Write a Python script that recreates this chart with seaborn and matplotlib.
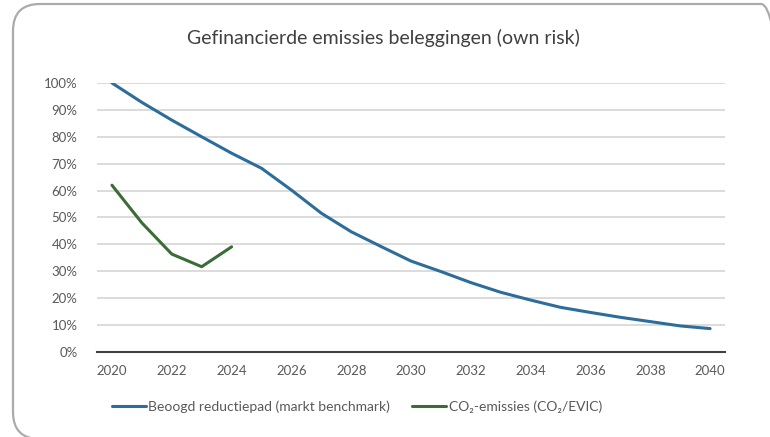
"""
    Gefinancierde emissies beleggingen (own risk)
"""
import pandas as pd
import matplotlib.pyplot as plt
import seaborn as sns
from matplotlib.patches import FancyBboxPatch
from matplotlib.ticker import PercentFormatter

# Datos
jaren = list(range(2020, 2041))
reductiepad = [1.00, 0.928, 0.862, 0.80, 0.739, 0.683, 0.602, 0.516, 0.447, 0.392,
               0.338, 0.299, 0.258, 0.222, 0.193, 0.166, 0.147, 0.129, 0.113, 0.097, 0.087]
co2_jaren = [2020, 2021, 2022, 2023, 2024]
co2_emissies = [0.62, 0.48, 0.364, 0.317, 0.391]

label_pad = 'Beoogd reductiepad (markt benchmark)'
label_co2 = 'CO₂-emissies (CO₂/EVIC)'

df = pd.concat([
    pd.DataFrame({'jaar': jaren, 'waarde': reductiepad, 'serie': label_pad}),
    pd.DataFrame({'jaar': co2_jaren, 'waarde': co2_emissies, 'serie': label_co2}),
])

sns.set_theme(style='white')
plt.rcParams['font.family'] = ['Lato', 'DejaVu Sans']

fig = plt.figure(figsize=(7.7, 4.37), dpi=100)
ax = fig.add_axes([0.126, 0.1945, 0.8156, 0.6156])

# Marco redondeado alrededor del gráfico (sale por la derecha y abajo)
marco = FancyBboxPatch((13 / 770, -2 / 437), 775 / 770, 1 - 2 / 437,
                       boxstyle='round,pad=0,rounding_size=0.035',
                       transform=fig.transFigure, facecolor='none',
                       edgecolor='#ababab', linewidth=1.6, clip_on=False,
                       mutation_aspect=770 / 437)
fig.patches.append(marco)

sns.lineplot(data=df, x='jaar', y='waarde', hue='serie', ax=ax,
             palette={label_pad: '#2c6d9a', label_co2: '#3b6b37'},
             linewidth=2.2, legend=False)

ax.set_xlim(2019.5, 2040.5)
ax.set_ylim(0, 1.0)
ax.set_xticks(list(range(2020, 2041, 2)))
ax.set_yticks([i / 10 for i in range(11)])
ax.yaxis.set_major_formatter(PercentFormatter(1.0, decimals=0))
ax.grid(axis='y', color='#d9d9d9', linewidth=1.3)
ax.set_axisbelow(True)
for side in ['top', 'right', 'left']:
    ax.spines[side].set_visible(False)
ax.spines['bottom'].set_color('#404040')
ax.spines['bottom'].set_linewidth(1.5)
ax.spines['bottom'].set_zorder(5)
ax.tick_params(axis='both', length=0, labelsize=9.5, labelcolor='#595959')
ax.tick_params(axis='x', pad=9)
ax.tick_params(axis='y', pad=14)
ax.set_xlabel('')
ax.set_ylabel('')

fig.text(383 / 770, 1 - 38 / 437, 'Gefinancierde emissies beleggingen (own risk)',
         ha='center', va='center', fontsize=14, color='#404040')

handles = [plt.Line2D([], [], color='#2c6d9a', linewidth=2.2),
           plt.Line2D([], [], color='#3b6b37', linewidth=2.2)]
fig.legend(handles, [label_pad, label_co2], loc='center', ncol=2,
           bbox_to_anchor=(357 / 770, 1 - 407 / 437), frameon=False,
           fontsize=10, labelcolor='#595959', handlelength=2.4,
           handletextpad=0.2, columnspacing=1.6)

fig.savefig('out.png', dpi=100)
